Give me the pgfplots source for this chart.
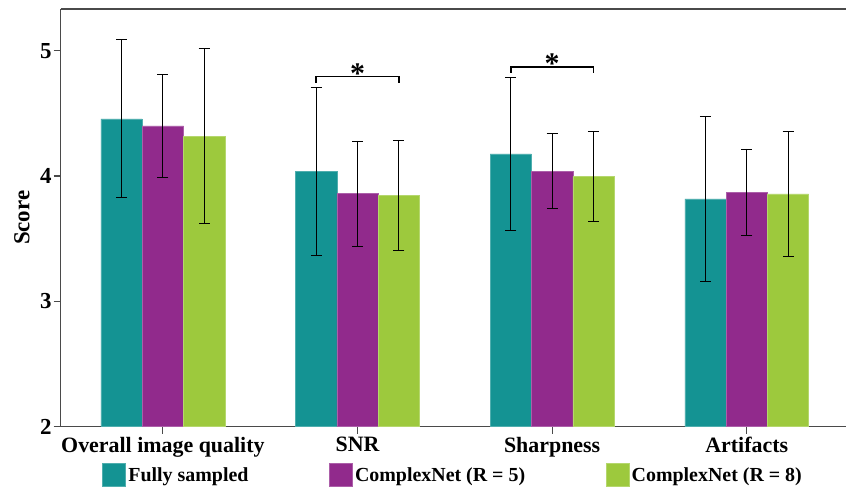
\documentclass[border=0pt]{standalone}
\usepackage{pgfplots}
\pgfplotsset{compat=1.18}
\usepackage{fontspec}
\setmainfont{Liberation Serif}
\usetikzlibrary{calc}
\definecolor{cteal}{HTML}{149393}
\definecolor{cpurple}{HTML}{912A8C}
\definecolor{cgreen}{HTML}{9DC93D}
\definecolor{axisgray}{HTML}{4A4A4A}
\begin{document}
\begin{tikzpicture}
\begin{axis}[
  scale only axis, width=785.3bp, height=417.7bp,
  xmin=-0.525, xmax=3.51, ymin=2, ymax=5.333,
  ybar, bar width=0.212,
  axis lines*=left,
  axis line style={axisgray, line width=1.2bp},
  xtick={0,1,2,3},
  xticklabels={Overall image quality, SNR, Sharpness, Artifacts},
  ytick={2,3,4,5},
  tick align=outside, major tick length=7bp,
  tick style={axisgray, line width=1.2bp},
  ticklabel style={font=\fontsize{22}{26}\selectfont\bfseries},
  yticklabel style={font=\fontsize{23}{26}\selectfont\bfseries, inner xsep=2bp},
  /pgf/number format/assume math mode=true,
  ylabel={Score},
  ylabel style={at={(axis description cs:-0.0493,0.5)}, anchor=center, rotate=0, font=\fontsize{23}{26}\selectfont\bfseries},
  legend columns=3,
  legend style={at={(axis description cs:0.5,-0.1157)}, anchor=center, draw=none, fill=none, inner sep=0pt,
    font=\fontsize{20}{24}\selectfont\bfseries,
    nodes={inner xsep=2.5bp},
    /tikz/every even column/.append style={column sep=78bp}},
  legend cell align=left,
  legend image code/.code={\fill[#1] (0bp,-11.5bp) rectangle (23bp,11.5bp);},
  error bars/y dir=both, error bars/y explicit,
  error bars/error bar style={black, line width=0.9bp},
  error bars/error mark options={rotate=90, mark size=5.5bp, black, line width=0.9bp},
]
\addplot[fill=cteal, draw=cteal!75!white, line width=0.5bp, bar shift=-0.212] coordinates {
  (0,4.456) +- (0,0.63)
  (1,4.038) +- (0,0.67)
  (2,4.176) +- (0,0.613)
  (3,3.817) +- (0,0.66)
};
\addplot[fill=cpurple, draw=cpurple!75!white, line width=0.5bp, bar shift=0] coordinates {
  (0,4.400) +- (0,0.41)
  (1,3.860) +- (0,0.42)
  (2,4.038) +- (0,0.30)
  (3,3.871) +- (0,0.345)
};
\addplot[fill=cgreen, draw=cgreen!75!white, line width=0.5bp, bar shift=0.212] coordinates {
  (0,4.318) +- (0,0.70)
  (1,3.847) +- (0,0.44)
  (2,3.998) +- (0,0.36)
  (3,3.857) +- (0,0.50)
};
\legend{Fully sampled, ComplexNet (R = 5), ComplexNet (R = 8)}
\draw[axisgray, line width=1.2bp] (rel axis cs:0,1) -- (rel axis cs:1,1);
\draw[black, line width=1.6bp] (axis cs:0.788,4.745) -- (axis cs:0.788,4.793) -- (axis cs:1.212,4.793) -- (axis cs:1.212,4.745);
\draw[black, line width=1.6bp] (axis cs:1.788,4.825) -- (axis cs:1.788,4.868) -- (axis cs:2.212,4.868) -- (axis cs:2.212,4.825);
\node[font=\fontsize{30}{34}\selectfont\bfseries, anchor=base, inner sep=0pt] at (axis cs:1,4.74) {*};
\node[font=\fontsize{30}{34}\selectfont\bfseries, anchor=base, inner sep=0pt] at (axis cs:2,4.818) {*};
\end{axis}
\pgfresetboundingbox
\path[use as bounding box] ($(current axis.south west)+(-60.7bp,-65.3bp)$) rectangle ($(current axis.north east)+(1bp,9bp)$);
\end{tikzpicture}
\end{document}
